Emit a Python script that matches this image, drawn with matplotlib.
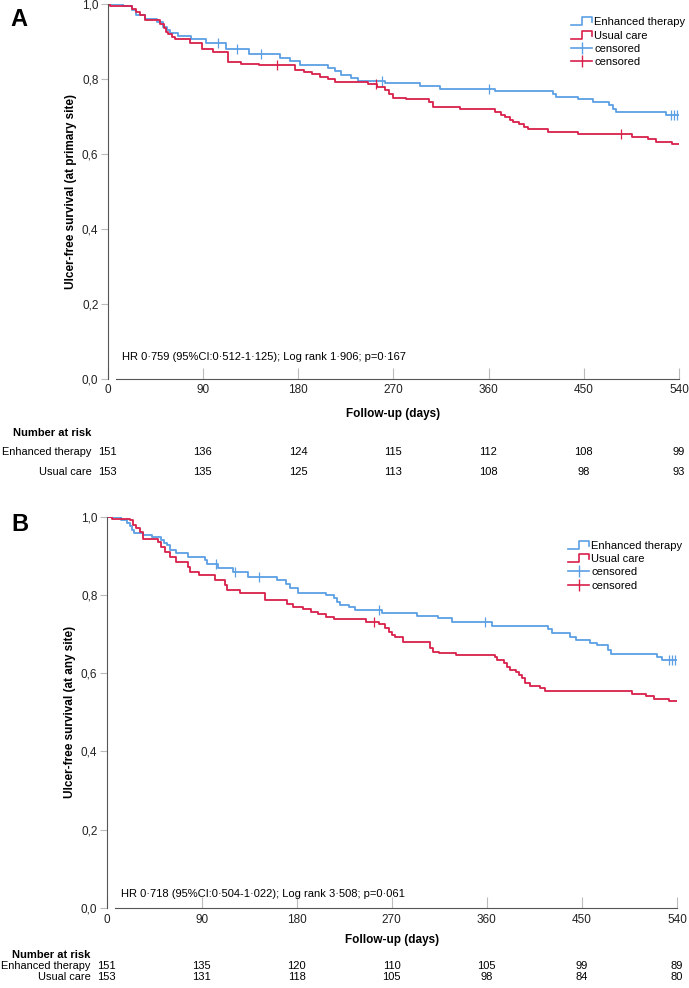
import matplotlib.pyplot as plt
import numpy as np
from matplotlib import font_manager
from matplotlib.legend_handler import HandlerBase
from matplotlib.lines import Line2D
from matplotlib.transforms import blended_transform_factory

# Kaplan-Meier steps: day of event -> survival after it
a_enh_t = [0, 15, 23, 27, 35, 47, 52, 56, 59, 67, 79, 93, 112, 134, 163, 172, 182, 208, 215, 221,
           230, 237, 262, 295, 314, 366, 421, 424, 445, 459, 474, 478, 480, 528]
a_enh_s = [1.0, 0.993, 0.983, 0.970, 0.958, 0.952, 0.938, 0.930, 0.921, 0.915, 0.907, 0.895, 0.880,
           0.865, 0.855, 0.846, 0.836, 0.829, 0.820, 0.811, 0.802, 0.795, 0.788, 0.780, 0.772, 0.766,
           0.760, 0.752, 0.745, 0.739, 0.730, 0.718, 0.710, 0.703]
a_enh_cens = [104, 122, 145, 259, 360, 532, 535, 538]

a_usu_t = [0, 2, 23, 27, 31, 35, 50, 53, 55, 57, 61, 64, 78, 89, 100, 114, 126, 143, 177, 186, 193,
           201, 208, 215, 246, 255, 262, 266, 270, 282, 304, 308, 333, 366, 372, 376, 380, 383, 389,
           394, 397, 416, 445, 496, 511, 518, 533]
a_usu_s = [1.0, 0.993, 0.987, 0.979, 0.970, 0.957, 0.946, 0.934, 0.925, 0.918, 0.912, 0.905, 0.894,
           0.880, 0.872, 0.845, 0.840, 0.836, 0.823, 0.817, 0.812, 0.805, 0.798, 0.792, 0.785, 0.779,
           0.770, 0.760, 0.748, 0.745, 0.739, 0.725, 0.718, 0.712, 0.704, 0.697, 0.690, 0.685, 0.680,
           0.672, 0.665, 0.659, 0.652, 0.645, 0.638, 0.632, 0.625]
a_usu_cens = [160, 254, 485]

b_enh_t = [0, 14, 19, 22, 24, 26, 35, 43, 52, 54, 57, 60, 66, 77, 93, 95, 106, 120, 134, 161, 170,
           174, 181, 208, 215, 218, 221, 230, 235, 261, 294, 314, 327, 365, 418, 422, 439, 444, 458,
           464, 475, 478, 521, 526]
b_enh_s = [1.0, 0.991, 0.984, 0.975, 0.967, 0.959, 0.953, 0.947, 0.940, 0.934, 0.927, 0.916, 0.908,
           0.897, 0.889, 0.879, 0.870, 0.859, 0.846, 0.838, 0.828, 0.819, 0.806, 0.799, 0.791, 0.782,
           0.774, 0.768, 0.761, 0.754, 0.746, 0.740, 0.731, 0.720, 0.712, 0.703, 0.693, 0.685, 0.678,
           0.672, 0.659, 0.650, 0.642, 0.635]
b_enh_cens = [104, 122, 144, 258, 358, 532, 535, 538]

b_usu_t = [0, 5, 22, 25, 28, 32, 35, 49, 52, 55, 60, 66, 77, 79, 88, 103, 112, 114, 126, 150, 171,
           177, 186, 194, 200, 208, 215, 246, 258, 264, 267, 270, 273, 281, 306, 309, 315, 331, 368,
           370, 376, 379, 382, 388, 390, 393, 396, 401, 410, 415, 497, 511, 518, 532]
b_usu_s = [1.0, 0.995, 0.991, 0.980, 0.970, 0.961, 0.942, 0.935, 0.923, 0.910, 0.897, 0.885, 0.872,
           0.859, 0.851, 0.838, 0.825, 0.812, 0.804, 0.787, 0.778, 0.770, 0.763, 0.757, 0.752, 0.744,
           0.738, 0.731, 0.725, 0.716, 0.706, 0.697, 0.693, 0.681, 0.665, 0.655, 0.652, 0.646, 0.642,
           0.633, 0.625, 0.616, 0.608, 0.604, 0.595, 0.587, 0.574, 0.567, 0.563, 0.555, 0.548, 0.541,
           0.535, 0.529]
b_usu_cens = [253]

end_day = 540

risk_days = [0, 90, 180, 270, 360, 450, 540]
a_risk_enh = [151, 136, 124, 115, 112, 108, 99]
a_risk_usu = [153, 135, 125, 113, 108, 98, 93]
b_risk_enh = [151, 135, 120, 110, 105, 99, 89]
b_risk_usu = [153, 131, 118, 105, 98, 84, 80]

a_stats = "HR 0\u00b7759 (95%CI:0\u00b7512-1\u00b7125); Log rank 1\u00b7906; p=0\u00b7167"
b_stats = "HR 0\u00b7718 (95%CI:0\u00b7504-1\u00b7022); Log rank 3\u00b7508; p=0\u00b7061"

blue = "#5c9fe4"
red = "#d8204b"

names = {f.name for f in font_manager.fontManager.ttflist}
narrow = "Liberation Sans Narrow" if "Liberation Sans Narrow" in names else "Liberation Sans"
plt.rcParams["font.family"] = ["Liberation Sans", "DejaVu Sans"]


class StepHandler(HandlerBase):
    # little step icon like the SPSS legend
    def create_artists(self, legend, orig_handle, xdescent, ydescent, width, height, fontsize, trans):
        x0 = -xdescent
        xs = [x0, x0 + width * 0.5, x0 + width * 0.5, x0 + width, x0 + width]
        ys = [height * 0.0, height * 0.0, height * 1.0, height * 1.0, height * 0.35]
        ln = Line2D(xs, ys, color=orig_handle.get_color(), lw=1.2, transform=trans)
        return [ln]


def km_panel(ax, curves, stats, ylabel, letter, risk_rows, leg_xy, row_y):
    for t, s, cens, col in curves:
        t = np.array(t)
        s = np.array(s)
        ax.step(np.r_[t, end_day], np.r_[s, s[-1]], where="post", color=col, lw=1.3)
        idx = np.searchsorted(t, cens, side="right") - 1
        ax.plot(cens, s[idx], ls="none", marker="|", ms=7, mew=0.9, color=col)

    ax.set_xlim(0, 540)
    ax.set_ylim(0, 1.0)
    ax.set_xticks(risk_days)
    ax.set_yticks(np.arange(0, 1.01, 0.2))
    ax.set_yticklabels([f"{v:.1f}".replace(".", ",") for v in np.arange(0, 1.01, 0.2)])
    for side in ["top", "right"]:
        ax.spines[side].set_visible(False)
    ax.spines["left"].set_color("#555555")
    ax.spines["bottom"].set_color("#555555")
    ax.spines["bottom"].set_bounds(8, 540)
    ax.tick_params(axis="x", direction="in", length=8, color="#bbbbbb", labelsize=8.5, pad=4)
    ax.tick_params(axis="y", direction="out", length=5, color="#bbbbbb", labelsize=8.5, pad=1.5)
    for lab in ax.get_xticklabels() + ax.get_yticklabels():
        lab.set_family([narrow, "DejaVu Sans"])
        lab.set_color("#222222")

    ax.text(-0.064, 0.5, ylabel, rotation=90, ha="center", va="center", fontsize=8.5,
            fontweight="bold", transform=ax.transAxes)
    ax.text(letter[1], letter[2], letter[0], ha="center", va="center", fontsize=17,
            fontweight="bold", transform=ax.transAxes)
    ax.text(0.026, stats[1], stats[0], fontsize=8, family=[narrow, "DejaVu Sans"],
            ha="left", va="center", transform=ax.transAxes)

    # risk table below the axis
    tr = blended_transform_factory(ax.transData, ax.transAxes)
    ax.text(270, row_y[0], "Follow-up (days)", ha="center", va="center", fontsize=8.5,
            fontweight="bold", family=[narrow, "DejaVu Sans"], transform=tr)
    ax.text(-15, row_y[1], "Number at risk", ha="right", va="center", fontsize=8,
            fontweight="bold", family=[narrow, "DejaVu Sans"], transform=tr)
    for (name, counts), y in zip(risk_rows, row_y[2:]):
        ax.text(-15, y, name, ha="right", va="center", fontsize=7.9,
                family=[narrow, "DejaVu Sans"], transform=tr)
        for d, n in zip(risk_days, counts):
            ax.text(d, y, str(n), ha="center", va="center",
                    fontsize=8, family=[narrow, "DejaVu Sans"], transform=tr)

    handles = [Line2D([], [], color=blue), Line2D([], [], color=red),
               Line2D([], [], color=blue, marker="|", ms=9, mew=1.0, lw=1.2),
               Line2D([], [], color=red, marker="|", ms=9, mew=1.0, lw=1.2)]
    labels = ["Enhanced therapy", "Usual care", "censored", "censored"]
    ax.legend(handles, labels, loc="upper left", bbox_to_anchor=leg_xy, frameon=False,
              fontsize=8, borderpad=0, borderaxespad=0, handlelength=1.9, handletextpad=0.2,
              labelspacing=0.3,
              handler_map={handles[0]: StepHandler(), handles[1]: StepHandler()})


fig = plt.figure(figsize=(6.89, 9.88), dpi=100)
ax_a = fig.add_axes([107.5 / 689, 1 - 378.7 / 988, 571.5 / 689, 375 / 988])
ax_b = fig.add_axes([106.5 / 689, 1 - 908 / 988, 570.5 / 689, 391.3 / 988])

km_panel(ax_a,
         [(a_enh_t, a_enh_s, a_enh_cens, blue), (a_usu_t, a_usu_s, a_usu_cens, red)],
         (a_stats, 0.058), "Ulcer-free survival (at primary site)", ("A", -0.155, 0.959),
         [("Enhanced therapy", a_risk_enh), ("Usual care", a_risk_usu)],
         (0.811, 0.964), [-0.094, -0.145, -0.196, -0.249])

km_panel(ax_b,
         [(b_enh_t, b_enh_s, b_enh_cens, blue), (b_usu_t, b_usu_s, b_usu_cens, red)],
         (b_stats, 0.035), "Ulcer-free survival (at any site)", ("B", -0.152, 0.979),
         [("Enhanced therapy", b_risk_enh), ("Usual care", b_risk_usu)],
         (0.809, 0.939), [-0.082, -0.120, -0.148, -0.176])

fig.savefig("out.png", dpi=100)
